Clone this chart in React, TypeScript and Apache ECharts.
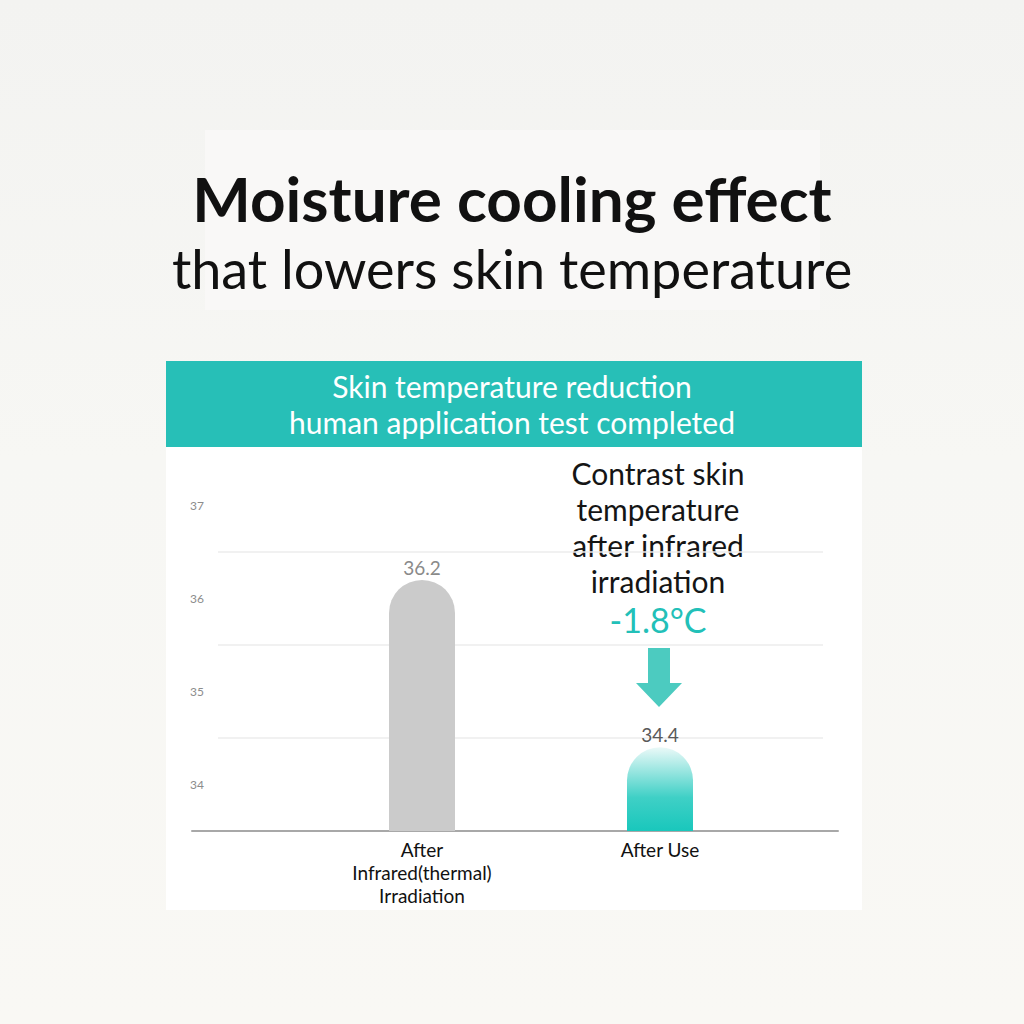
import React, { useEffect, useRef } from "react";
import * as echarts from "echarts";

const categories = ["After\nInfrared(thermal)\nIrradiation", "After Use"];
const values = [36.2, 34.4];
const valueLabelColors = ["#8a8a8a", "#5a5a5a"];
const yTickLabels = [34, 35, 36, 37];
const yMin = 33.5;
const yMax = 37.5;
const titleLine1 = "Moisture cooling effect";
const titleLine2 = "that lowers skin temperature";
const headerLines = ["Skin temperature reduction", "human application test completed"];
const noteLines = ["Contrast skin", "temperature", "after infrared", "irradiation"];
const deltaText = "-1.8°C";

const FONT = 'Lato, "Noto Sans", sans-serif';
const TEAL = "#27bfb7";

export default function App() {
  const ref = useRef<HTMLDivElement>(null);
  useEffect(() => {
    if (!ref.current) return;
    const chart = echarts.init(ref.current, null, { renderer: "svg" });
    const top = 459;
    const bottom = 193;
    const option: any = {
      animation: false,
      backgroundColor: new echarts.graphic.LinearGradient(0, 0, 0, 1, [
        { offset: 0, color: "#f3f3f1" },
        { offset: 0.45, color: "#f7f7f4" },
        { offset: 1, color: "#f9f8f4" },
      ]),
      textStyle: { fontFamily: FONT },
      grid: [
        { left: 303, right: 245, top, bottom },
        { left: 192, right: 186, top, bottom },
        { left: 218, right: 201, top, bottom },
      ],
      xAxis: [
        {
          type: "category",
          gridIndex: 0,
          data: categories,
          axisLine: { show: false },
          axisTick: { show: false },
          axisLabel: { color: "#111", fontSize: 19, lineHeight: 23, margin: 7, fontFamily: FONT },
        },
        {
          type: "value",
          gridIndex: 1,
          min: 0,
          max: 1,
          axisLine: { show: true, lineStyle: { color: "#a8a8a8", width: 2 } },
          axisTick: { show: false },
          axisLabel: { show: false },
          splitLine: { show: false },
        },
        { type: "value", gridIndex: 2, min: 0, max: 1, show: false },
      ],
      yAxis: [
        { type: "value", gridIndex: 0, min: yMin, max: yMax, show: false },
        {
          type: "value",
          gridIndex: 1,
          min: yMin,
          max: yMax,
          interval: 0.5,
          axisLine: { show: false },
          axisTick: { show: false },
          splitLine: { show: false },
          axisLabel: {
            margin: -12,
            color: "#8c8c8c",
            fontSize: 12,
            fontFamily: FONT,
            formatter: (v: number) => (yTickLabels.includes(v) ? String(v) : ""),
          },
        },
        {
          type: "value",
          gridIndex: 2,
          min: 0,
          max: 4,
          interval: 1,
          axisLine: { show: false },
          axisTick: { show: false },
          axisLabel: { show: false },
          splitLine: { show: true, showMinLine: false, showMaxLine: false, lineStyle: { color: "#ececec", width: 1.5 } },
        },
      ],
      series: [
        {
          type: "bar",
          xAxisIndex: 0,
          yAxisIndex: 0,
          barWidth: 66,
          data: values.map((v, i) => ({
            value: v,
            itemStyle:
              i === 0
                ? { color: "#cbcbcb", borderRadius: [33, 33, 0, 0] }
                : {
                    borderRadius: [33, 33, 0, 0],
                    color: new echarts.graphic.LinearGradient(0, 0, 0, 1, [
                      { offset: 0, color: "#eaf9f8" },
                      { offset: 0.6, color: "#3fd0c6" },
                      { offset: 1, color: "#19c7bc" },
                    ]),
                  },
            label: { color: valueLabelColors[i] },
          })),
          label: {
            show: true,
            position: "top",
            distance: 3,
            fontSize: 19,
            fontFamily: FONT,
            formatter: (p: any) => p.value.toFixed(1),
          },
        },
      ],
      graphic: [
        { type: "rect", z: -100, shape: { x: 205, y: 130, width: 615, height: 180 }, style: { fill: "#f9f8f7" } },
        { type: "rect", z: -100, shape: { x: 166, y: 447, width: 696, height: 463 }, style: { fill: "#ffffff" } },
        { type: "rect", z: -90, shape: { x: 166, y: 361, width: 696, height: 86 }, style: { fill: TEAL } },
        {
          type: "text",
          x: 512,
          y: 198,
          style: { text: titleLine1, fill: "#111", font: `bold 62px ${FONT}`, textAlign: "center", textVerticalAlign: "middle" },
        },
        {
          type: "text",
          x: 512,
          y: 268,
          style: { text: titleLine2, fill: "#111", font: `54px ${FONT}`, textAlign: "center", textVerticalAlign: "middle" },
        },
        {
          type: "text",
          x: 512,
          y: 404,
          style: {
            text: headerLines.join("\n"),
            fill: "#ffffff",
            font: `30px ${FONT}`,
            lineHeight: 36,
            textAlign: "center",
            textVerticalAlign: "middle",
          },
        },
        {
          type: "text",
          x: 658,
          y: 527,
          style: {
            text: noteLines.join("\n"),
            fill: "#151515",
            font: `30px ${FONT}`,
            lineHeight: 36,
            textAlign: "center",
            textVerticalAlign: "middle",
          },
        },
        {
          type: "text",
          x: 658,
          y: 619,
          style: { text: deltaText, fill: "#22c0b8", font: `34px ${FONT}`, textAlign: "center", textVerticalAlign: "middle" },
        },
        {
          type: "polygon",
          shape: {
            points: [
              [648, 648],
              [670, 648],
              [670, 683],
              [682, 683],
              [659, 707],
              [636, 683],
              [648, 683],
            ],
          },
          style: { fill: "#4ccbc0" },
        },
      ],
    };
    chart.setOption(option);
    return () => chart.dispose();
  }, []);
  return <div ref={ref} style={{ position: "absolute", left: 0, top: 0, width: 1024, height: 1024 }} />;
}
